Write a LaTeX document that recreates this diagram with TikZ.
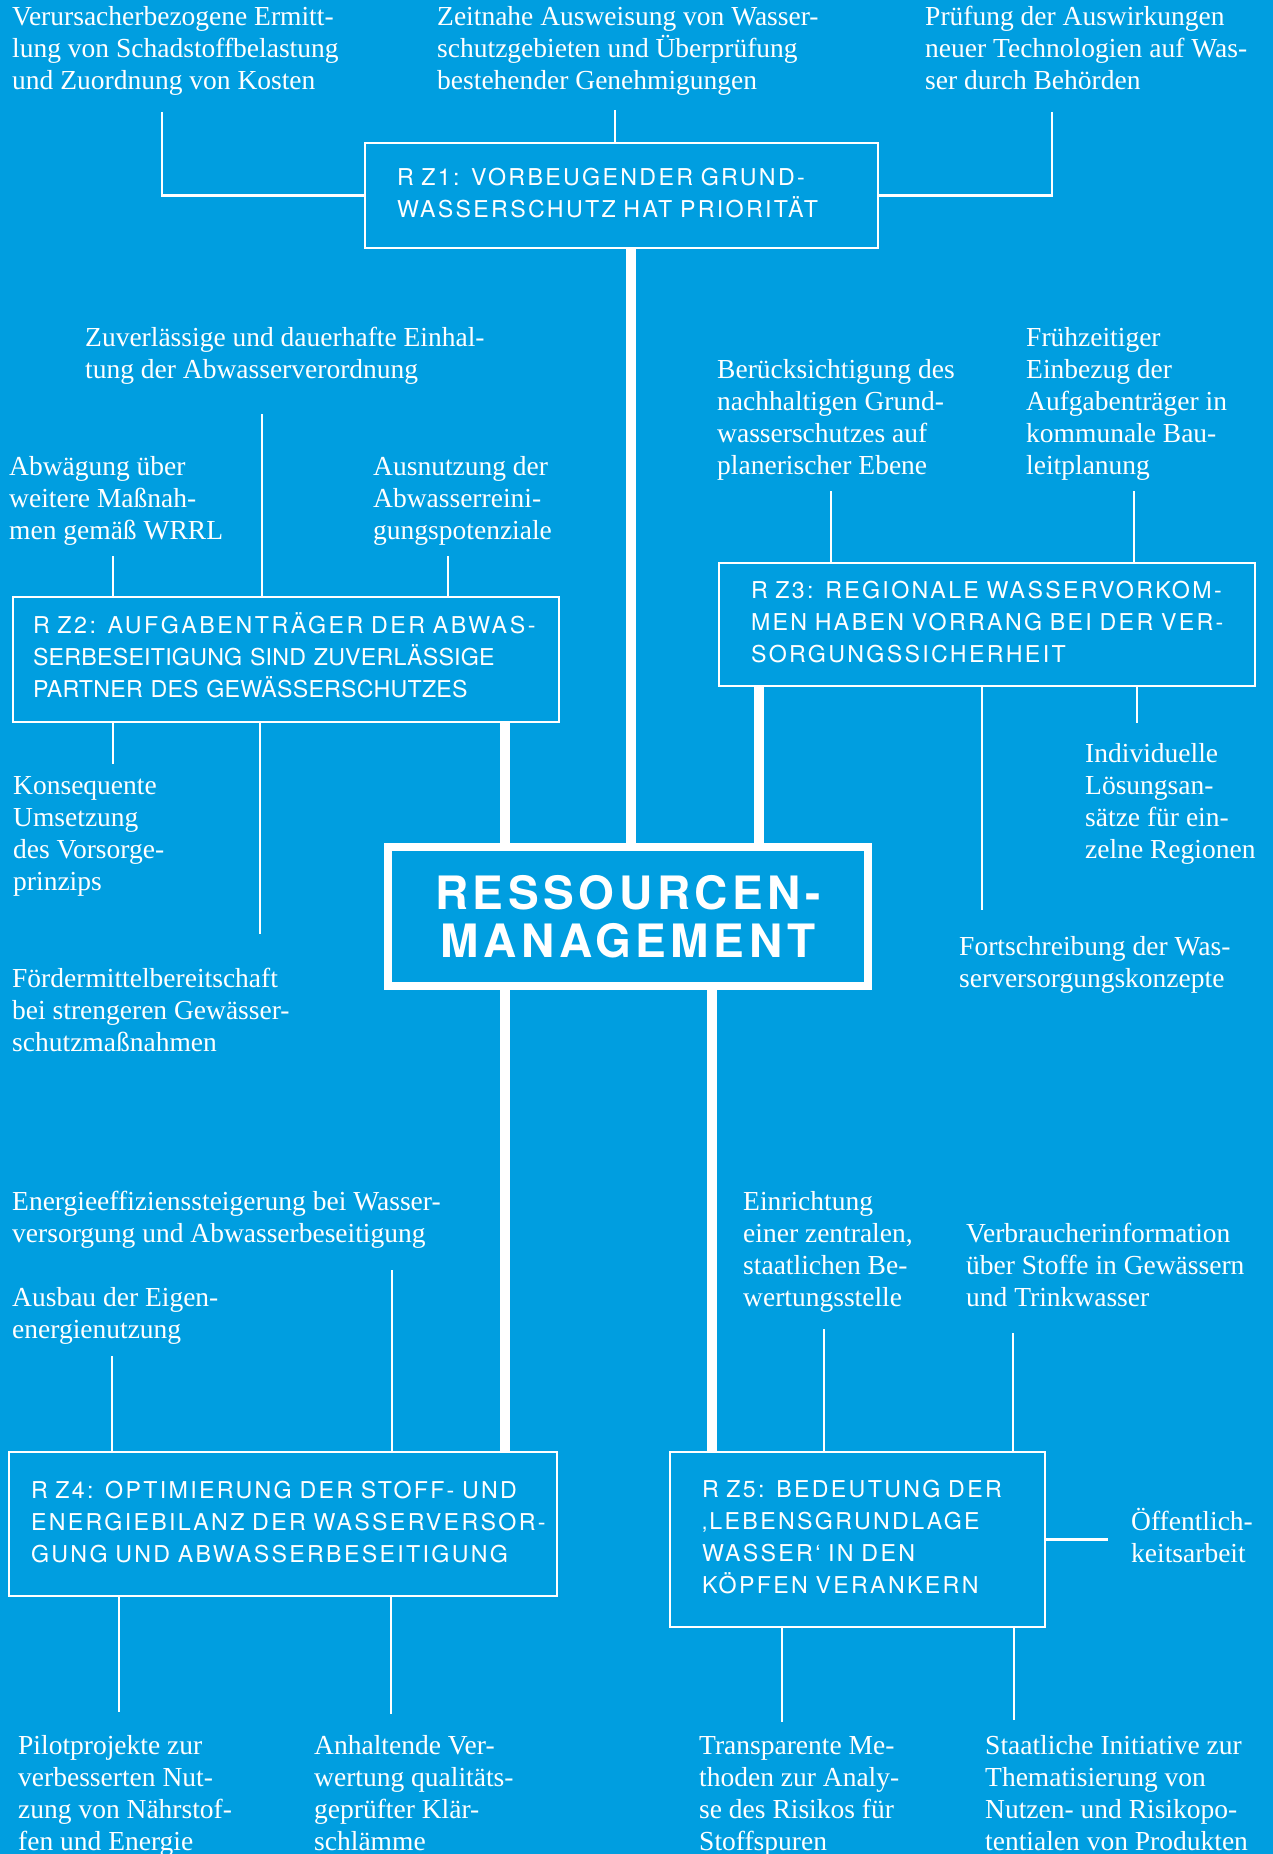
\documentclass[tikz,border=0pt]{standalone}
\usepackage{fontspec}
\setmainfont{Liberation Serif}
\newfontfamily\boxfont{TeX Gyre Heros}[LetterSpace=10]
\newfontfamily\boxfontw{TeX Gyre Heros}[LetterSpace=11]
\newfontfamily\boxfontn{TeX Gyre Heros}[LetterSpace=1]
\newfontfamily\titlefont{TeX Gyre Heros}[LetterSpace=10]
\definecolor{wasserblau}{RGB}{0,158,224}
% Zeilen eines Ziels, ohne Umbruch
\newcommand\zeilen[1]{\begin{tabular}{@{}l@{}}#1\end{tabular}}

\begin{document}
\begin{tikzpicture}[x=1pt,y=-1pt,
	txt/.style={anchor=base west,inner sep=0,align=left,text=white,font=\fontsize{27.5}{32}\selectfont},
	goal/.style={draw=white,line width=2.5pt,outer sep=0,anchor=north west,align=left,text=white,inner ysep=0,font=\fontsize{23.2}{32}\selectfont\boxfont},
	stub/.style={white,line width=2.5pt},
	trunk/.style={white,line width=10pt}]
	\useasboundingbox (0,0) rectangle (1273,1854);
	\fill[wasserblau] (0,0) rectangle (1273,1854);

	% Zentrum
	\node[draw=white,line width=8pt,outer sep=0,anchor=north west,minimum width=480,minimum height=139,align=center,text=white,font=\fontsize{46}{48}\selectfont\titlefont\bfseries] (rm) at (388,847) {RESSOURCEN-\\MANAGEMENT};

	% Ziele
	\node[goal,minimum width=513,minimum height=105,text width=449,inner xsep=32] (z1) at (365,143) {\zeilen{R Z1: VORBEUGENDER GRUND-\\WASSERSCHUTZ HAT PRIORITÄT}};
	\node[goal,minimum width=546,minimum height=125,text width=506,inner xsep=20] (z2) at (13,597) {\zeilen{{\boxfontw R Z2: AUFGABENTRÄGER DER ABWAS-}\\{\boxfontn SERBESEITIGUNG SIND ZUVERLÄSSIGE}\\{\boxfontn PARTNER DES GEWÄSSERSCHUTZES}}};
	\node[goal,minimum width=536,minimum height=123,text width=472,inner xsep=32] (z3) at (719,563) {\zeilen{R Z3: REGIONALE WASSERVORKOM-\\MEN HABEN VORRANG BEI DER VER-\\SORGUNGSSICHERHEIT}};
	\node[goal,minimum width=548,minimum height=144,text width=504,inner xsep=22] (z4) at (9,1452) {\zeilen{R Z4: OPTIMIERUNG DER STOFF- UND\\ENERGIEBILANZ DER WASSERVERSOR-\\GUNG UND ABWASSERBESEITIGUNG}};
	\node[goal,minimum width=375,minimum height=175,text width=311,inner xsep=32] (z5) at (670,1452) {\zeilen{R Z5: BEDEUTUNG DER\\‚LEBENSGRUNDLAGE\\WASSER‘ IN DEN\\KÖPFEN VERANKERN}};

	% Massnahmen (Anker: Grundlinie der letzten Zeile)
	\node[txt] (z1-1) at (12,90) {Verursacherbezogene Ermitt-\\lung von Schadstoffbelastung\\und Zuordnung von Kosten};
	\node[txt] (z1-2) at (437,90) {Zeitnahe Ausweisung von Wasser-\\schutzgebieten und Überprüfung\\bestehender Genehmigungen};
	\node[txt] (z1-3) at (925,90) {Prüfung der Auswirkungen\\neuer Technologien auf Was-\\ser durch Behörden};

	\node[txt] (z2-1) at (85,378) {Zuverlässige und dauerhafte Einhal-\\tung der Abwasserverordnung};
	\node[txt] (z2-2) at (9,539) {Abwägung über\\weitere Maßnah-\\men gemäß WRRL};
	\node[txt] (z2-3) at (373,539) {Ausnutzung der\\Abwasserreini-\\gungspotenziale};
	\node[txt] (z2-4) at (13,890) {Konsequente\\Umsetzung\\des Vorsorge-\\prinzips};
	\node[txt] (z2-5) at (12,1051) {Fördermittelbereitschaft\\bei strengeren Gewässer-\\schutzmaßnahmen};

	\node[txt] (z3-1) at (717,474) {Berücksichtigung des\\nachhaltigen Grund-\\wasserschutzes auf\\planerischer Ebene};
	\node[txt] (z3-2) at (1026,474) {Frühzeitiger\\Einbezug der\\Aufgabenträger in\\kommunale Bau-\\leitplanung};
	\node[txt] (z3-3) at (1085,858) {Individuelle\\Lösungsan-\\sätze für ein-\\zelne Regionen};
	\node[txt] (z3-4) at (959,987) {Fortschreibung der Was-\\serversorgungskonzepte};

	\node[txt] (z4-1) at (12,1242) {Energieeffizienssteigerung bei Wasser-\\versorgung und Abwasserbeseitigung};
	\node[txt] (z4-2) at (12,1338) {Ausbau der Eigen-\\energienutzung};
	\node[txt] (z4-3) at (18,1850) {Pilotprojekte zur\\verbesserten Nut-\\zung von Nährstof-\\fen und Energie};
	\node[txt] (z4-4) at (314,1850) {Anhaltende Ver-\\wertung qualitäts-\\geprüfter Klär-\\schlämme};

	\node[txt] (z5-1) at (743,1306) {Einrichtung\\einer zentralen,\\staatlichen Be-\\wertungsstelle};
	\node[txt] (z5-2) at (966,1306) {Verbraucherinformation\\über Stoffe in Gewässern\\und Trinkwasser};
	\node[txt] (z5-3) at (1131,1562) {Öffentlich-\\keitsarbeit};
	\node[txt] (z5-4) at (699,1850) {Transparente Me-\\thoden zur Analy-\\se des Risikos für\\Stoffspuren};
	\node[txt] (z5-5) at (985,1850) {Staatliche Initiative zur\\Thematisierung von\\Nutzen- und Risikopo-\\tentialen von Produkten};

	% Enden der Verbindungen
	\coordinate (z1-1e) at (162,112);
	\coordinate (z1-2e) at (615,110);
	\coordinate (z1-3e) at (1052,112);
	\coordinate (z2-1e) at (262,414);
	\coordinate (z2-2e) at (113,556);
	\coordinate (z2-3e) at (448,556);
	\coordinate (z2-4e) at (113,764);
	\coordinate (z2-5e) at (260,934);
	\coordinate (z3-1e) at (831,491);
	\coordinate (z3-2e) at (1134,491);
	\coordinate (z3-3e) at (1137,723);
	\coordinate (z3-4e) at (982,910);
	\coordinate (z4-1e) at (392,1270);
	\coordinate (z4-2e) at (112,1356);
	\coordinate (z4-3e) at (119,1712);
	\coordinate (z4-4e) at (391,1714);
	\coordinate (z5-1e) at (824,1329);
	\coordinate (z5-2e) at (1013,1333);
	\coordinate (z5-3e) at (1108,1543);
	\coordinate (z5-4e) at (782,1722);
	\coordinate (z5-5e) at (1014,1720);

	\draw[trunk] (631,0 |- z1.south) -- (631,0 |- rm.north);
	\draw[trunk] (505,0 |- z2.south) -- (505,0 |- rm.north);
	\draw[trunk] (759,0 |- z3.south) -- (759,0 |- rm.north);
	\draw[trunk] (505,0 |- rm.south) -- (505,0 |- z4.north);
	\draw[trunk] (712,0 |- rm.south) -- (712,0 |- z5.north);

	\draw[stub] (z1-1e) |- (z1.west);
	\draw[stub] (z1-2e) -- (z1-2e |- z1.north);
	\draw[stub] (z1-3e) |- (z1.east);

	\draw[stub] (z2-1e) -- (z2-1e |- z2.north);
	\draw[stub] (z2-2e) -- (z2-2e |- z2.north);
	\draw[stub] (z2-3e) -- (z2-3e |- z2.north);
	\draw[stub] (z2-4e |- z2.south) -- (z2-4e);
	\draw[stub] (z2-5e |- z2.south) -- (z2-5e);

	\draw[stub] (z3-1e) -- (z3-1e |- z3.north);
	\draw[stub] (z3-2e) -- (z3-2e |- z3.north);
	\draw[stub] (z3-3e |- z3.south) -- (z3-3e);
	\draw[stub] (z3-4e |- z3.south) -- (z3-4e);

	\draw[stub] (z4-1e) -- (z4-1e |- z4.north);
	\draw[stub] (z4-2e) -- (z4-2e |- z4.north);
	\draw[stub] (z4-3e |- z4.south) -- (z4-3e);
	\draw[stub] (z4-4e |- z4.south) -- (z4-4e);

	\draw[stub] (z5-1e) -- (z5-1e |- z5.north);
	\draw[stub] (z5-2e) -- (z5-2e |- z5.north);
	\draw[stub] (z5.east) -- (z5-3e |- z5.east);
	\draw[stub] (z5-4e |- z5.south) -- (z5-4e);
	\draw[stub] (z5-5e |- z5.south) -- (z5-5e);
\end{tikzpicture}
\end{document}
